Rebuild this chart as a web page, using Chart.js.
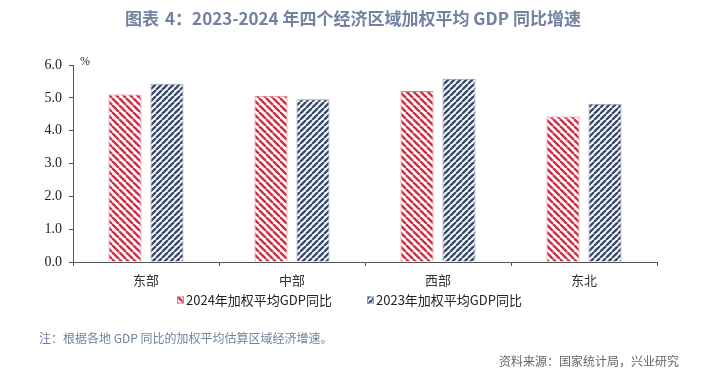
<!DOCTYPE html>
<html>
<head>
<meta charset="utf-8">
<script src="https://cdn.jsdelivr.net/npm/chart.js@4.4.1/dist/chart.umd.min.js"></script>
<style>
  html, body { margin: 0; padding: 0; background: #fff; }
  #wrap { position: relative; width: 714px; height: 379px; overflow: hidden; }
  #chart { position: absolute; left: 0; top: 0; }
  .txt { position: absolute; font-family: "Noto Sans CJK SC", "Noto Sans", sans-serif; white-space: nowrap; }
  #title { left: 0; width: 706px; top: 5px; text-align: center; font-size: 17px; font-weight: bold; color: #7282a0; }
  #title .gap { display: inline-block; width: 6px; }
  #note { left: 39px; top: 329px; font-size: 12px; color: #7282a0; }
  #source { right: 35px; top: 352px; font-size: 12px; color: #666; }
</style>
</head>
<body>
<div id="wrap">
  <canvas id="chart" width="714" height="379"></canvas>
  <div class="txt" id="title">图表<span class="gap"></span>4：2023-2024 年四个经济区域加权平均 GDP 同比增速</div>
  <div class="txt" id="note">注：根据各地 GDP 同比的加权平均估算区域经济增速。</div>
  <div class="txt" id="source">资料来源：国家统计局，兴业研究</div>
</div>
<script>
// --- Data ---
const regions = ['东部', '中部', '西部', '东北'];
const growth2024 = [5.1, 5.06, 5.21, 4.43];
const growth2023 = [5.43, 4.96, 5.58, 4.82];
const yTicks = [0, 1, 2, 3, 4, 5, 6];

// --- Hatch patterns ---
function makeHatch(color, size, back) {
  const c = document.createElement('canvas');
  c.width = size;
  c.height = size;
  const g = c.getContext('2d');
  g.fillStyle = '#fff';
  g.fillRect(0, 0, size, size);
  g.strokeStyle = color;
  g.lineWidth = 2.4;
  g.beginPath();
  for (let k = -size; k <= size; k += size) {
    if (back) {
      // "\" direction
      g.moveTo(k, 0);
      g.lineTo(k + size, size);
    } else {
      // "/" direction
      g.moveTo(k, size);
      g.lineTo(k + size, 0);
    }
  }
  g.stroke();
  return g.createPattern(c, 'repeat');
}

const ctx = document.getElementById('chart').getContext('2d');
const redHatch = makeHatch('#d02e45', 7, true);
const blueHatch = makeHatch('#3a4c6c', 6, false);

// "%" unit label above the y axis
const unitLabel = {
  id: 'unitLabel',
  afterDraw(chart) {
    const g = chart.ctx;
    g.save();
    g.font = '12px "Liberation Serif", serif';
    g.fillStyle = '#222';
    g.textAlign = 'left';
    g.textBaseline = 'middle';
    g.fillText('%', chart.chartArea.left + 7, chart.chartArea.top - 3);
    g.restore();
  }
};

// Legend under the x axis (small hatched boxes)
const bottomLegend = {
  id: 'bottomLegend',
  afterDraw(chart) {
    const g = chart.ctx;
    const y = chart.chartArea.bottom + 38;
    const starts = [177, 367];
    g.save();
    g.font = '13px "Noto Sans CJK SC", sans-serif';
    g.textBaseline = 'middle';
    chart.data.datasets.forEach((ds, i) => {
      const x = starts[i];
      g.fillStyle = ds.backgroundColor;
      g.fillRect(x, y - 3.5, 7, 7);
      g.strokeStyle = ds.borderColor;
      g.lineWidth = 1;
      g.strokeRect(x + 0.5, y - 3, 6, 6);
      g.fillStyle = '#222';
      g.fillText(ds.label, x + 9, y);
    });
    g.restore();
  }
};

new Chart(ctx, {
  type: 'bar',
  data: {
    labels: regions,
    datasets: [
      {
        label: '2024年加权平均GDP同比',
        data: growth2024,
        backgroundColor: redHatch,
        borderColor: '#e0808e',
        borderWidth: 1,
        categoryPercentage: 0.575,
        barPercentage: 0.786
      },
      {
        label: '2023年加权平均GDP同比',
        data: growth2023,
        backgroundColor: blueHatch,
        borderColor: '#8898b4',
        borderWidth: 1,
        categoryPercentage: 0.575,
        barPercentage: 0.786
      }
    ]
  },
  options: {
    responsive: false,
    animation: false,
    layout: { padding: { left: 0, right: 57, top: 65, bottom: 87 } },
    plugins: {
      legend: { display: false },
      tooltip: { enabled: false }
    },
    scales: {
      x: {
        afterFit: (axis) => { axis.height = 30; },
        grid: { display: true, drawOnChartArea: false, drawTicks: true, tickLength: 4, color: '#555' },
        border: { display: true, color: '#555', width: 1 },
        ticks: {
          padding: 6,
          color: '#333',
          font: { family: '"Noto Sans CJK SC", sans-serif', size: 13 }
        }
      },
      y: {
        min: 0,
        max: 6,
        afterFit: (axis) => { axis.width = 73; },
        afterBuildTicks: (axis) => { axis.ticks = yTicks.map(v => ({ value: v })); },
        grid: { display: true, drawOnChartArea: false, drawTicks: true, tickLength: 4, color: '#555' },
        border: { display: true, color: '#555', width: 1 },
        ticks: {
          padding: 7,
          color: '#222',
          font: { family: '"Liberation Serif", "Times New Roman", serif', size: 14 },
          callback: (v) => Number(v).toFixed(1)
        }
      }
    }
  },
  plugins: [unitLabel, bottomLegend]
});
</script>
</body>
</html>
